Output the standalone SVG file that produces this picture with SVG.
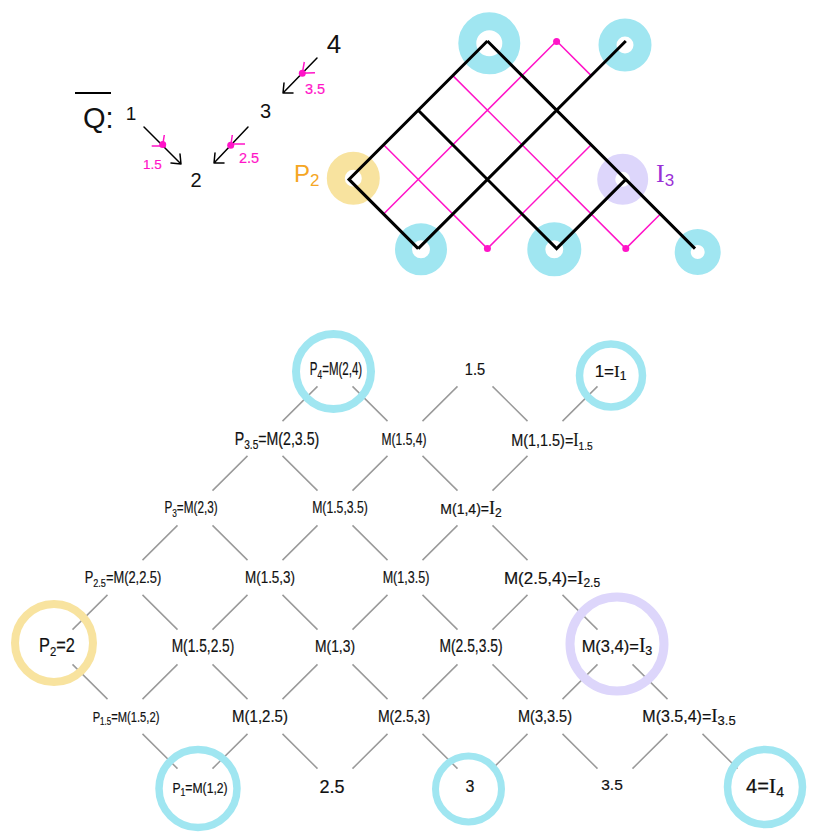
<svg xmlns="http://www.w3.org/2000/svg" width="817" height="835" viewBox="0 0 817 835">
<style>
text{font-family:"Liberation Sans",Arial,sans-serif;fill:#111}
.c{text-anchor:middle}
.l{stroke:#111;stroke-width:0.2}
.i{font-family:"Liberation Serif","Times New Roman",serif}
.mg{fill:#ff14c8}
.ring{fill:none;stroke:#a0e6f1}
.ry{fill:none;stroke:#f8e39f}
.rl{fill:none;stroke:#ddd6fb}
.blk{fill:none;stroke:#000;stroke-width:3}
.pk{fill:none;stroke:#ff14c8;stroke-width:1.5}
.gr{fill:none;stroke:#9a9a9a;stroke-width:1.5}
.arr{fill:none;stroke:#000;stroke-width:1.5;stroke-linecap:round;stroke-linejoin:round}
</style>
<rect width="817" height="835" fill="#fff"/>

<!-- ===== Quiver Q-bar ===== -->
<g id="quiver-title">
  <line x1="75" y1="93" x2="111" y2="93" stroke="#000" stroke-width="2"/>
  <text x="83" y="128" font-size="29">Q:</text>
</g>
<g id="q-node-1"><text class="c" x="131" y="120" font-size="19">1</text></g>
<g id="q-node-2"><text class="c" x="196" y="187" font-size="20">2</text></g>
<g id="q-node-3"><text class="c" x="265.5" y="118" font-size="20">3</text></g>
<g id="q-node-4"><text class="c" x="334" y="53" font-size="26">4</text></g>
<g id="q-arrows">
  <path class="arr" d="M144 127 L181 164 M171 163 L181 164 L180 154"/>
  <path class="arr" d="M248 127 L214 163 M224 163 L214 163 L215 153"/>
  <path class="arr" d="M317 58 L283 93 M293 93 L283 93 L284 83"/>
  <g class="pk" stroke-width="2">
    <path d="M164.3 135 L162.7 145 M151.7 146 L166 146"/>
    <path d="M232.3 135 L230.7 146 M228 144 L245 144"/>
    <path d="M304.3 62 L302.3 73.3 M300 73.3 L315 72.7"/>
  </g>
  <circle class="mg" cx="162.7" cy="144.5" r="3.5"/>
  <circle class="mg" cx="230.7" cy="145.3" r="3.5"/>
  <circle class="mg" cx="302.3" cy="73.3" r="3.5"/>
  <text class="c mg" x="152.5" y="169" font-size="13.5" style="stroke:#ff14c8;stroke-width:0.2">1.5</text>
  <text class="c mg" x="249" y="163" font-size="14.5" style="stroke:#ff14c8;stroke-width:0.2">2.5</text>
  <text class="c mg" x="315" y="94" font-size="14.5" style="stroke:#ff14c8;stroke-width:0.2">3.5</text>
</g>

<!-- ===== Top-right lattice ===== -->
<g id="lattice-top">
  <circle class="ring" cx="489.3" cy="43.3" r="22" stroke-width="18"/>
  <circle class="ring" cx="625" cy="45" r="17.5" stroke-width="18"/>
  <circle class="ry" cx="353.3" cy="178.3" r="17.5" stroke-width="18"/>
  <circle class="rl" cx="622.7" cy="179.3" r="16.5" stroke-width="18"/>
  <circle class="ring" cx="421" cy="249.3" r="17.5" stroke-width="17"/>
  <circle class="ring" cx="554.3" cy="249.3" r="18" stroke-width="18"/>
  <circle class="ring" cx="697.7" cy="252" r="15" stroke-width="16"/>
  <path class="pk" d="M556.6 41 L591.2 75.6 M556.6 41 L383.6 214 M452.8 75.6 L625.8 248.6 M383.6 144.8 L487.4 248.6 L591.2 144.8 M625.8 248.6 L660.4 214"/>
  <path class="blk" d="M487.4 41 L349 179.4 L418.2 248.6 M487.4 41 L695 248.6 M625.8 41 L418.2 248.6 M418.2 110.2 L556.6 248.6 L625.8 179.4"/>
  <circle class="mg" cx="556.6" cy="41.5" r="3.5"/>
  <circle class="mg" cx="487.4" cy="248.6" r="3.5"/>
  <circle class="mg" cx="625.8" cy="248.6" r="3.5"/>
  <text x="294" y="182" font-size="24" style="fill:#f5a623">P<tspan font-size="17" dy="4">2</tspan></text>
  <text x="656" y="182" style="fill:#9a2fd6"><tspan class="i" font-size="26">I</tspan><tspan font-size="17" dy="4">3</tspan></text>
</g>

<!-- ===== Bottom lattice connectors ===== -->
<g id="connectors">
  <path class="gr" d="
M317.5 386.4 L282.5 421.1 M352.5 386.4 L387.5 421.1 M457.5 386.4 L422.5 421.1 M492.5 386.4 L527.5 421.1 M597.5 386.4 L562.5 421.1
M247.5 455.9 L212.5 490.6 M282.5 455.9 L317.5 490.6 M387.5 455.9 L352.5 490.6 M422.5 455.9 L457.5 490.6 M527.5 455.9 L492.5 490.6
M177.5 525.4 L142.5 560.1 M212.5 525.4 L247.5 560.1 M317.5 525.4 L282.5 560.1 M352.5 525.4 L387.5 560.1 M457.5 525.4 L422.5 560.1 M492.5 525.4 L527.5 560.1
M107.5 594.9 L72.5 629.6 M142.5 594.9 L177.5 629.6 M247.5 594.9 L212.5 629.6 M282.5 594.9 L317.5 629.6 M387.5 594.9 L352.5 629.6 M422.5 594.9 L457.5 629.6 M527.5 594.9 L492.5 629.6 M562.5 594.9 L597.5 629.6
M72.5 664.4 L107.5 699.1 M177.5 664.4 L142.5 699.1 M212.5 664.4 L247.5 699.1 M317.5 664.4 L282.5 699.1 M352.5 664.4 L387.5 699.1 M457.5 664.4 L422.5 699.1 M492.5 664.4 L527.5 699.1 M597.5 664.4 L562.5 699.1 M632.5 664.4 L667.5 699.1
M142.5 733.9 L177.5 768.6 M247.5 733.9 L212.5 768.6 M282.5 733.9 L317.5 768.6 M387.5 733.9 L352.5 768.6 M422.5 733.9 L457.5 768.6 M527.5 733.9 L492.5 768.6 M562.5 733.9 L597.5 768.6 M667.5 733.9 L632.5 768.6 M702.5 733.9 L737.5 768.6"/>
</g>

<!-- ===== Bottom lattice nodes ===== -->
<!-- row 0 -->
<g id="n-P4"><circle class="ring" cx="333.5" cy="371.5" r="37.5" stroke-width="8"/>
  <text class="c l" transform="translate(336 375) scale(0.64 1)" font-size="18">P<tspan font-size="13" dy="4">4</tspan><tspan dy="-4">=M(2,4)</tspan></text></g>
<g id="n-1.5"><text class="c l" transform="translate(475 375) scale(0.86 1)" font-size="17">1.5</text></g>
<g id="n-I1"><circle class="ring" cx="611" cy="375.5" r="31.5" stroke-width="7.5"/>
  <text class="c l" x="610.5" y="377" font-size="17">1=<tspan class="i">I</tspan><tspan font-size="12" dy="3">1</tspan></text></g>
<!-- row 1 -->
<g id="n-P3.5"><text class="c l" transform="translate(277 445) scale(0.81 1)" font-size="17.5">P<tspan font-size="12.5" dy="4">3.5</tspan><tspan dy="-4">=M(2,3.5)</tspan></text></g>
<g id="n-M1.5-4"><text class="c l" transform="translate(404 445) scale(0.74 1)" font-size="16.3">M(1.5,4)</text></g>
<g id="n-I1.5"><text class="c l" transform="translate(552 446) scale(0.885 1)" font-size="16.3">M(1,1.5)=<tspan class="i" font-size="18">I</tspan><tspan font-size="11.5" dy="3.5">1.5</tspan></text></g>
<!-- row 2 -->
<g id="n-P3"><text class="c l" transform="translate(191 513) scale(0.72 1)" font-size="16.3">P<tspan font-size="11.5" dy="3.5">3</tspan><tspan dy="-3.5">=M(2,3)</tspan></text></g>
<g id="n-M1.5-3.5"><text class="c l" transform="translate(340 513) scale(0.75 1)" font-size="16.3">M(1.5,3.5)</text></g>
<g id="n-I2"><text class="c l" x="471" y="514" font-size="14">M(1,4)=<tspan class="i" font-size="18">I</tspan><tspan font-size="12" dy="3">2</tspan></text></g>
<!-- row 3 -->
<g id="n-P2.5"><text class="c l" transform="translate(123 583) scale(0.79 1)" font-size="16.3">P<tspan font-size="11.5" dy="3.5">2.5</tspan><tspan dy="-3.5">=M(2,2.5)</tspan></text></g>
<g id="n-M1.5-3"><text class="c l" transform="translate(270 583) scale(0.8 1)" font-size="16.8">M(1.5,3)</text></g>
<g id="n-M1-3.5"><text class="c l" transform="translate(406 583) scale(0.77 1)" font-size="16.3">M(1,3.5)</text></g>
<g id="n-I2.5"><text class="c l" x="552" y="584" font-size="17">M(2.5,4)=<tspan class="i" font-size="19">I</tspan><tspan font-size="12" dy="3">2.5</tspan></text></g>
<!-- row 4 -->
<g id="n-P2"><circle class="ry" cx="54" cy="643" r="39" stroke-width="8"/>
  <text class="c l" transform="translate(57 652) scale(0.84 1)" font-size="19.5">P<tspan font-size="13.5" dy="4">2</tspan><tspan dy="-4">=2</tspan></text></g>
<g id="n-M1.5-2.5"><text class="c l" transform="translate(203 652) scale(0.74 1)" font-size="18.6">M(1.5,2.5)</text></g>
<g id="n-M1-3"><text class="c l" transform="translate(335 652) scale(0.85 1)" font-size="16.3">M(1,3)</text></g>
<g id="n-M2.5-3.5"><text class="c l" transform="translate(471 652) scale(0.77 1)" font-size="18">M(2.5,3.5)</text></g>
<g id="n-I3"><circle class="rl" cx="617" cy="644" r="47" stroke-width="9"/>
  <text class="c l" transform="translate(617 652) scale(0.97 1)" font-size="17">M(3,4)=<tspan class="i" font-size="20">I</tspan><tspan font-size="13" dy="3">3</tspan></text></g>
<!-- row 5 -->
<g id="n-P1.5"><text class="c l" transform="translate(126 722) scale(0.8 1)" font-size="14">P<tspan font-size="10" dy="3">1.5</tspan><tspan dy="-3">=M(1.5,2)</tspan></text></g>
<g id="n-M1-2.5"><text class="c l" transform="translate(260 722) scale(0.92 1)" font-size="16.3">M(1,2.5)</text></g>
<g id="n-M2.5-3"><text class="c l" transform="translate(404 722) scale(0.86 1)" font-size="16.3">M(2.5,3)</text></g>
<g id="n-M3-3.5"><text class="c l" transform="translate(545 722) scale(0.89 1)" font-size="16.3">M(3,3.5)</text></g>
<g id="n-I3.5"><text class="c l" x="689" y="722" font-size="16">M(3.5,4)=<tspan class="i" font-size="19">I</tspan><tspan font-size="13" dy="3">3.5</tspan></text></g>
<!-- row 6 -->
<g id="n-P1"><circle class="ring" cx="198" cy="788.5" r="39" stroke-width="7.5"/>
  <text class="c l" transform="translate(200 793) scale(0.87 1)" font-size="14">P<tspan font-size="10" dy="3">1</tspan><tspan dy="-3">=M(1,2)</tspan></text></g>
<g id="n-2.5"><text class="c l" x="332" y="793" font-size="18">2.5</text></g>
<g id="n-3"><circle class="ring" cx="468.5" cy="789" r="33" stroke-width="7"/>
  <text class="c l" x="470" y="792" font-size="16">3</text></g>
<g id="n-3.5"><text class="c l" x="612" y="790" font-size="15.5">3.5</text></g>
<g id="n-I4"><circle class="ring" cx="765" cy="787" r="37.5" stroke-width="7.5"/>
  <text class="c l" x="765" y="793" font-size="20">4=<tspan class="i" font-size="22">I</tspan><tspan font-size="14" dy="4">4</tspan></text></g>
</svg>
